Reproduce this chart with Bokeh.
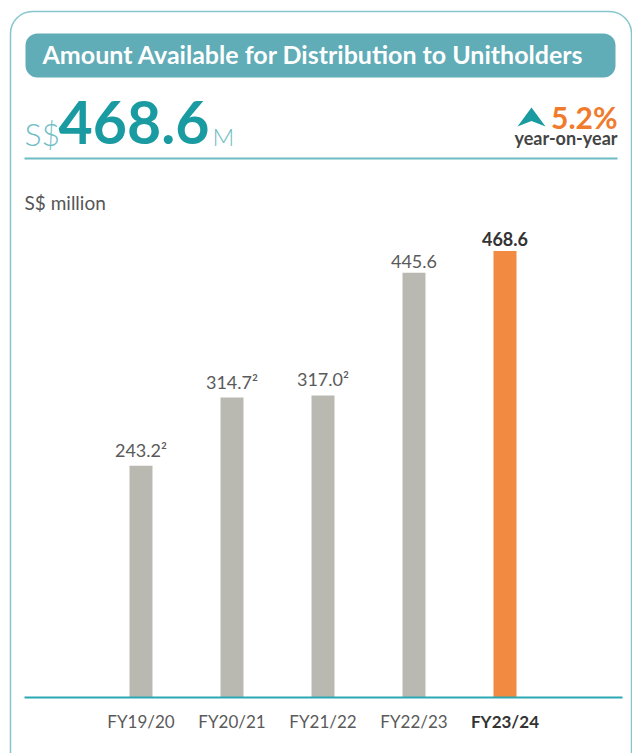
from bokeh.plotting import figure
from bokeh.models import FactorRange, Range1d, ColumnDataSource
from bokeh.core.properties import value
from bokeh.transform import dodge
from bokeh.embed import file_html
from bokeh.resources import INLINE

# ---- data ----
categories = ["FY19/20", "FY20/21", "FY21/22", "FY22/23", "FY23/24"]
amounts = [243.2, 314.7, 317.0, 445.6, 468.6]
value_labels = ["243.2\u00b2", "314.7\u00b2", "317.0\u00b2", "445.6", "468.6"]
bar_colors = ["#b9b9b2", "#b9b9b2", "#b9b9b2", "#b9b9b2", "#f28a41"]
label_colors = ["#5a5a5a", "#5a5a5a", "#5a5a5a", "#5a5a5a", "#333333"]
label_styles = ["normal", "normal", "normal", "normal", "bold"]
title_text = "Amount Available for Distribution to Unitholders"
headline_prefix = "S$"
headline_value = "468.6"
headline_suffix = "M"
change_text = "5.2%"
change_caption = "year-on-year"
unit_text = "S$ million"

# ---- layout ----
W, H = 632, 753
K = 0.953          # px per S$ million
ZERO_FROM_BOTTOM = 56
PAD = 0.389        # categorical range padding (fraction)
SHIFT = 0.0714     # shift of the bar group (in category widths)
N = len(categories)
X_START = -N * PAD / 2
CAT_PX = W / (N * (1 + PAD))


def sx(px_value):
    """pixel x (from left of canvas) -> synthetic categorical coordinate"""
    return X_START + px_value / CAT_PX


FONT = value("Lato")
LIGHT_FONT = value("'Lato Light', Lato")
TEAL = "#1a9ba1"
LIGHT_TEAL = "#6fbdc5"

xr = FactorRange(factors=categories, range_padding=PAD)
p = figure(width=W, height=H, x_range=xr,
           y_range=Range1d(-ZERO_FROM_BOTTOM / K, (H - ZERO_FROM_BOTTOM) / K),
           x_axis_location=None, y_axis_location=None,
           output_backend="svg", toolbar_location=None,
           min_border=0, outline_line_color=None,
           background_fill_color="white", border_fill_color="white")
p.grid.visible = False
p.extra_y_ranges = {"px": Range1d(H, 0)}
px = dict(y_range_name="px")

# outer rounded frame
p.quad(left=sx(10), right=sx(631), top=11, bottom=775, border_radius=22,
       fill_color=None, line_color="#86c6cd", line_width=1.5, **px)
# title banner
p.quad(left=sx(25), right=sx(615), top=33, bottom=77, border_radius=12,
       fill_color="#60acb7", line_color=None, **px)
p.text(x=[sx(42)], y=[53.5], text=[title_text], text_font=FONT, text_font_size="25px",
       text_font_style="bold", text_color="white", text_baseline="middle", **px)

# headline number
p.text(x=[sx(24)], y=[132.6], text=[headline_prefix], text_font=LIGHT_FONT,
       text_font_size="32px", text_font_style="normal", text_color=LIGHT_TEAL,
       text_baseline="middle", **px)
p.text(x=[sx(58)], y=[122.2], text=[headline_value], text_font=FONT, text_font_size="59px",
       text_font_style="bold", text_color=TEAL, text_baseline="middle", **px)
p.text(x=[sx(212)], y=[135.7], text=[headline_suffix], text_font=LIGHT_FONT,
       text_font_size="24px", text_font_style="normal", text_color=LIGHT_TEAL,
       text_baseline="middle", **px)

# change indicator
p.patch(x=[sx(517), sx(531), sx(545), sx(531)], y=[126, 107, 126, 120.5],
        color=TEAL, line_color=None, **px)
p.text(x=[sx(617)], y=[116.4], text=[change_text], text_font=FONT, text_font_size="30px",
       text_font_style="bold", text_color="#f07b2c", text_align="right",
       text_baseline="middle", **px)
p.text(x=[sx(617)], y=[137], text=[change_caption], text_font=FONT, text_font_size="18px",
       text_font_style="bold", text_color="#444444", text_align="right",
       text_baseline="middle", **px)

# divider
p.segment(x0=[sx(24)], y0=[158], x1=[sx(617)], y1=[158], line_color="#6dbbc4",
          line_width=2, **px)

# unit label
p.text(x=[sx(24)], y=[202], text=[unit_text], text_font=FONT, text_font_size="19px",
       text_color="#555555", text_baseline="middle", **px)

# bars
src = ColumnDataSource(dict(cat=categories, amt=amounts, vlab=value_labels,
                            color=bar_colors, lcolor=label_colors, lstyle=label_styles))
xpos = dodge("cat", SHIFT, range=xr)
p.vbar(x=xpos, top="amt", bottom=0, width=0.2527, source=src,
       fill_color="color", line_color=None)

# baseline (x axis line at zero)
p.segment(x0=[sx(24)], y0=[0], x1=[sx(622)], y1=[0], line_color="#2aa8b4", line_width=2)

# value labels
p.text(x=xpos, y="amt", text="vlab", source=src, y_offset=-5,
       text_align="center", text_baseline="bottom", text_font=FONT,
       text_font_size="18px", text_color="lcolor", text_font_style="lstyle")
# category labels
p.text(x=xpos, y=0, text="cat", source=src, y_offset=24,
       text_align="center", text_baseline="middle", text_font=FONT,
       text_font_size="17px", text_color="lcolor", text_font_style="lstyle")

open("out.html", "w").write(file_html(p, INLINE))
